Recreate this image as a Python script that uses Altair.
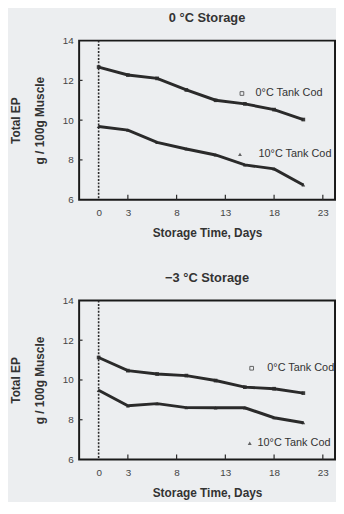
import altair as alt
import pandas as pd

# ---- data ----
days = [0, 3, 6, 9, 12, 15, 18, 21]
series_names = ["0°C Tank Cod", "10°C Tank Cod"]

top_title = "0 °C Storage"
top_0c = [12.67, 12.27, 12.10, 11.52, 11.00, 10.82, 10.53, 10.03]
top_10c = [9.68, 9.50, 8.88, 8.55, 8.25, 7.75, 7.55, 6.74]

bot_title = "−3 °C Storage"
bot_0c = [11.13, 10.47, 10.30, 10.22, 9.97, 9.64, 9.56, 9.34]
bot_10c = [9.48, 8.70, 8.81, 8.61, 8.60, 8.60, 8.10, 7.85]

x_ticks = [0, 3, 8, 13, 18, 23]
y_ticks = [6, 8, 10, 12, 14]
x_inner_ticks = [3, 8, 13, 18, 23]
y_inner_ticks = [8, 10, 12]

# in-plot legend annotations (data coordinates)
top_marker_x = [14.7, 14.5]
top_label_x = [16.1, 16.4]
top_label_y = [11.34, 8.28]
bot_marker_x = [15.7, 15.5]
bot_label_x = [17.3, 16.3]
bot_label_y = [10.59, 6.82]

X_DOMAIN = [-2, 24.25]
Y_DOMAIN = [6, 14]
INK = "#2a2a2a"
FONT = "Liberation Sans"


def panel(title, s0, s1, marker_x, label_x, label_y):
    df = pd.DataFrame({
        "day": days * 2,
        "ep": s0 + s1,
        "series": [series_names[0]] * len(days) + [series_names[1]] * len(days),
    })
    xs = alt.Scale(domain=X_DOMAIN, nice=False, zero=False)
    ys = alt.Scale(domain=Y_DOMAIN, nice=False, zero=False)
    x = alt.X("day:Q", scale=xs,
              axis=alt.Axis(values=x_ticks, title="Storage Time, Days",
                            labelPadding=8, titlePadding=10))
    y = alt.Y("ep:Q", scale=ys,
              axis=alt.Axis(values=y_ticks,
                            title=["Total EP", "g / 100g Muscle"],
                            labelPadding=6, titlePadding=16,
                            titleLineHeight=24))

    base = alt.Chart(df)
    lines = base.mark_line(color=INK, strokeWidth=3).encode(
        x=x, y=y, detail="series:N")
    pts = base.mark_point(color=INK, filled=True, size=14, opacity=0.9).encode(
        x="day:Q", y="ep:Q",
        shape=alt.Shape("series:N", legend=None,
                        scale=alt.Scale(domain=series_names,
                                        range=["square", "triangle-up"])))

    zero = alt.Chart(pd.DataFrame({"day": [0]})).mark_rule(
        color=INK, strokeWidth=1.6, strokeDash=[2, 1.5]).encode(x="day:Q")

    xt = alt.Chart(pd.DataFrame({"day": x_inner_ticks,
                                 "y0": [Y_DOMAIN[0]] * len(x_inner_ticks),
                                 "y1": [Y_DOMAIN[0] + 0.25] * len(x_inner_ticks)})
                   ).mark_rule(color=INK, strokeWidth=1.2).encode(
        x="day:Q", y="y0:Q", y2="y1:Q")
    yt = alt.Chart(pd.DataFrame({"ep": y_inner_ticks,
                                 "x0": [X_DOMAIN[0]] * len(y_inner_ticks),
                                 "x1": [X_DOMAIN[0] + 0.35] * len(y_inner_ticks)})
                   ).mark_rule(color=INK, strokeWidth=1.2).encode(
        y="ep:Q", x="x0:Q", x2="x1:Q")

    leg = pd.DataFrame({"mx": marker_x, "lx": label_x, "ly": label_y,
                        "series": series_names})
    leg_sq = alt.Chart(leg.iloc[[0]]).mark_point(
        shape="square", filled=False, color=INK, size=14, strokeWidth=1).encode(
        x="mx:Q", y="ly:Q")
    leg_tri = alt.Chart(leg.iloc[[1]]).mark_point(
        shape="triangle-up", filled=True, color=INK, size=16).encode(
        x="mx:Q", y="ly:Q")
    leg_txt = alt.Chart(leg).mark_text(
        align="left", baseline="middle", font=FONT, fontSize=11,
        color="#333").encode(x="lx:Q", y="ly:Q", text="series:N")

    return alt.layer(zero, xt, yt, lines, pts, leg_sq, leg_tri, leg_txt).properties(
        width=259, height=161,
        title=alt.TitleParams(title, anchor="middle", fontSize=13, offset=11,
                              font=FONT, fontWeight="bold", color="#333"))


chart = alt.vconcat(
    panel(top_title, top_0c, top_10c, top_marker_x, top_label_x, top_label_y),
    panel(bot_title, bot_0c, bot_10c, bot_marker_x, bot_label_x, bot_label_y),
    spacing=32,
).properties(
    background="#eceef0", padding=0
).configure_view(
    stroke="#1a1a1a", strokeWidth=2
).configure_axis(
    domain=False, ticks=False, grid=False,
    labelFont=FONT, labelFontSize=10, labelColor="#444",
    titleFont=FONT, titleFontSize=12, titleFontWeight="bold", titleColor="#333",
)

chart.save("out.html", embed_options={"renderer": "svg", "actions": False})
